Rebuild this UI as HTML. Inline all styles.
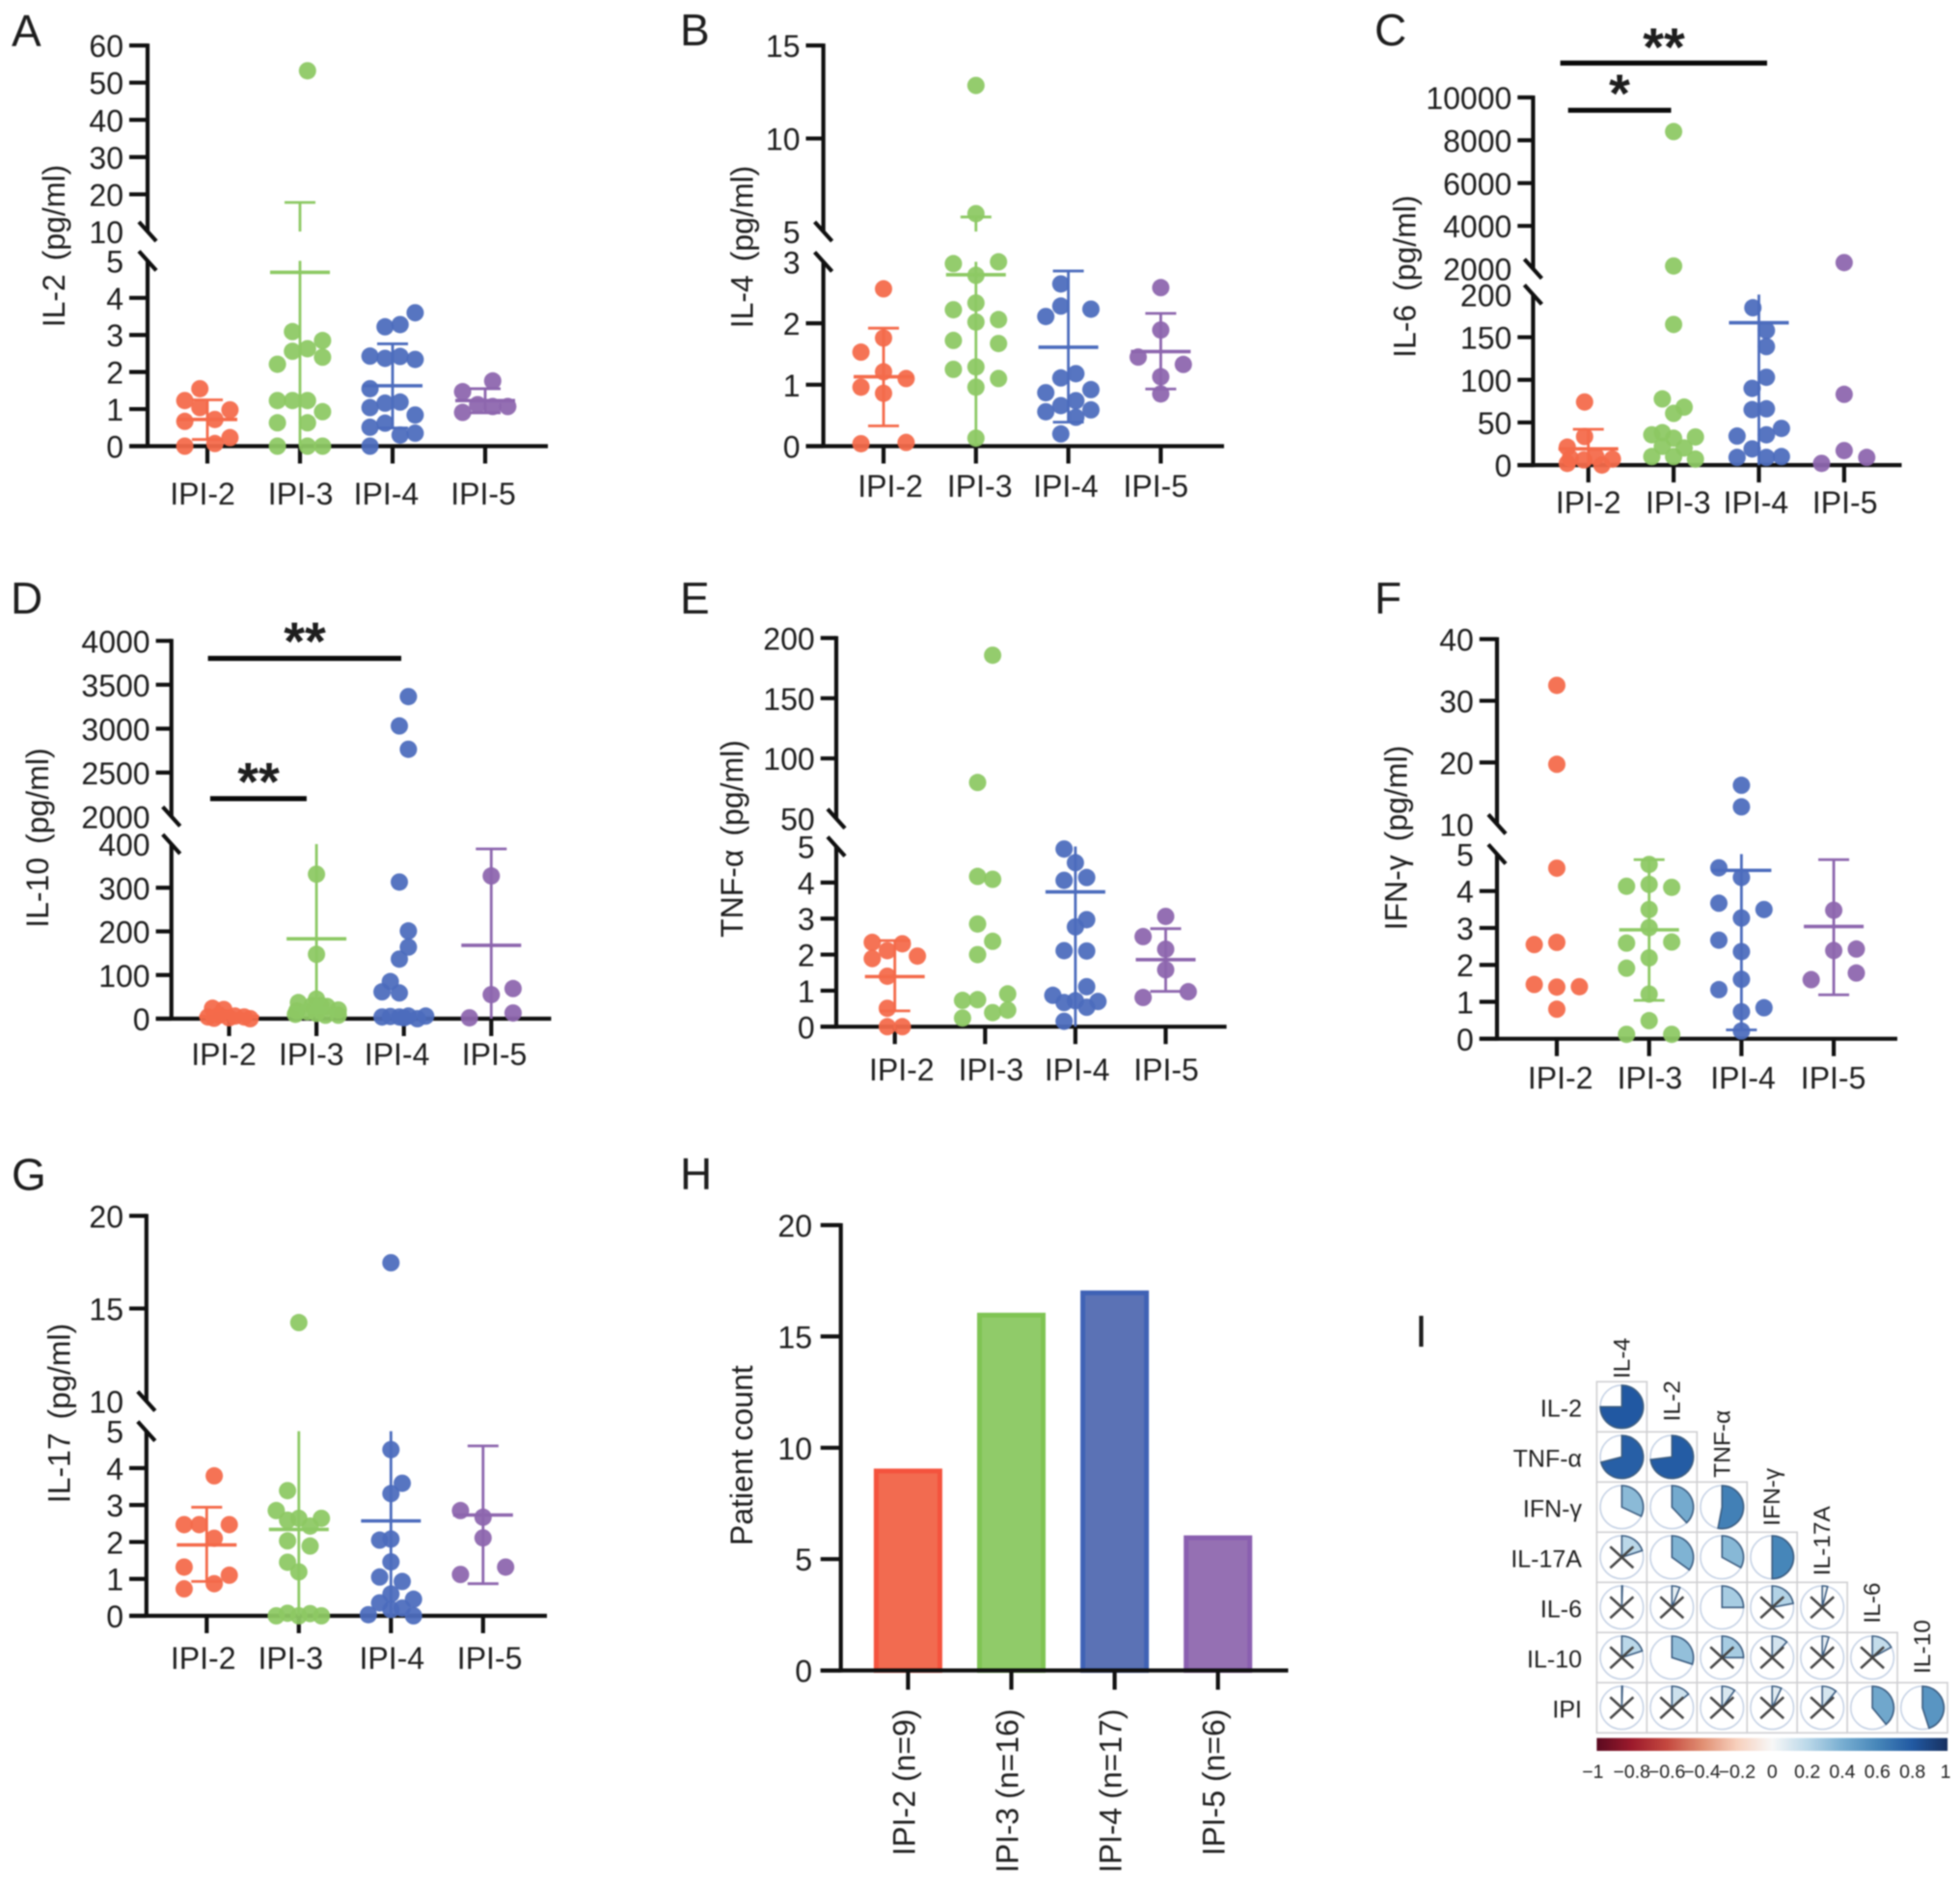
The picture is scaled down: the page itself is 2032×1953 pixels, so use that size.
<!DOCTYPE html>
<html lang="en">
<head>
<meta charset="utf-8">
<title>Cytokine levels by IPI group</title>
<style>
html,body{margin:0;padding:0;background:#fff;}
#figure{display:block;filter:blur(0.7px);}
text{font-family:"Liberation Sans",sans-serif;fill:#1e1e1e;}
</style>
</head>
<body>
<svg id="figure" xmlns="http://www.w3.org/2000/svg" width="2032" height="1953" viewBox="0 0 2032 1953">
<defs>
<linearGradient id="corr-gradient" x1="0" x2="1" y1="0" y2="0">
<stop offset="0" stop-color="#5a0a20"/>
<stop offset="0.1" stop-color="#9c1a2c"/>
<stop offset="0.2" stop-color="#c4483f"/>
<stop offset="0.3" stop-color="#e08e72"/>
<stop offset="0.4" stop-color="#f7d0bd"/>
<stop offset="0.5" stop-color="#f7f7f7"/>
<stop offset="0.6" stop-color="#bbd8e9"/>
<stop offset="0.7" stop-color="#78aed1"/>
<stop offset="0.8" stop-color="#4686b9"/>
<stop offset="0.9" stop-color="#2159a2"/>
<stop offset="1" stop-color="#17305f"/>
</linearGradient>
</defs>
</svg>
<script>
const categories = ['IPI-2', 'IPI-3', 'IPI-4', 'IPI-5'];
const groupColors = ['#f46a4a', '#8dc964', '#4c6cbd', '#8d66ae'];

/* Panel A: IL-2 */
const il2Values = [
  [1.55,1.23,1.04,0.98,0.67,0.72,0.23,0.07,0],
  [53.2,3.09,2.85,2.63,2.56,2.4,2.21,1.23,1.23,1.23,0.93,0.63,0.63,0,0,0],
  [3.6,3.22,3.28,2.43,2.37,2.42,2.34,1.55,1.16,1.19,1.04,0.84,0.62,0.51,0.3,0.35,0],
  [1.76,1.47,1.12,1.07,1.07,0.91]
];
const il2Slots = [
  [-0.5,-1.5,-0.5,1.5,-1.5,0.5,1.5,0.5,-1.5],
  [0.5,-0.5,1.5,0.5,-0.5,1.5,-1.5,-1.5,-0.5,0.5,1.5,-1.5,0.5,-1.5,0.5,1.5],
  [1.5,-0.5,0.5,-1.5,-0.5,0.5,1.5,-1.5,-0.5,0.5,-1.5,1.5,-0.5,-1.5,0.5,1.5,-1.5],
  [0.5,-1.5,-0.5,0.5,1.5,-1.5]
];
const il2Means = [0.72,4.69,1.63,1.23];
const il2Upper = [1.25,17.8,2.76,1.55];
const il2Lower = [0.18,null,0.49,0.9];
const il2LowTicks = [0,1,2,3,4,5];
const il2HighTicks = [10,20,30,40,50,60];

/* Panel B: IL-4 */
const il4Values = [
  [2.56,1.76,1.53,1.21,1.1,0.96,0.86,0.04,0.06],
  [12.85,5.96,2.97,3.0,2.78,2.33,2.22,2.06,2.02,1.72,1.67,1.25,1.29,1.1,0.96,0.13],
  [2.64,2.28,2.23,2.11,1.18,1.11,0.92,0.87,0.74,0.66,0.56,0.59,0.47,0.2],
  [2.58,1.89,1.45,1.33,1.13,0.85]
];
const il4Slots = [
  [0,0,-1.5,0,1.5,-1.5,0,-1.5,1.5],
  [0,0,-1.5,1.5,0,0,-1.5,1.5,0,-1.5,1.5,-1.5,0,1.5,0,0],
  [-0.5,-0.5,1.5,-1.5,0.5,-0.5,1.5,-1.5,0.5,-0.5,-1.5,1.5,0.5,-0.5],
  [0,0,-1.5,1.5,0,0]
];
const il4Means = [1.13,2.79,1.61,1.54];
const il4Upper = [1.92,5.78,2.85,2.16];
const il4Lower = [0.33,null,0.39,0.93];
const il4LowTicks = [0,1,2,3];
const il4HighTicks = [5,10,15];

/* Panel C: IL-6 */
const il6Values = [
  [74,33.5,21,8,6,10,7,0,2],
  [8406,2129,165,77.6,68,60.6,35.5,38,31.5,33,22,20,10,10,7],
  [184.6,158,139,103,90,65,66,43,34,35.5,19,9,9,10],
  [2287,83,17,9,2]
];
const il6Slots = [
  [-0.25,-0.25,-1.4,-1.2,-0.3,0.5,1.6,0.9,-1.4],
  [0,0,0,-0.75,0.7,0,-1.45,-0.75,0,1.45,-0.75,0.7,-1.45,0,1.45],
  [-0.4,0.5,0.5,0.5,-0.45,-0.45,0.5,1.5,-1.45,0.5,-0.45,-1.45,0.5,1.5],
  [0,0,0,1.5,-1.5]
];
const il6Means = [19,null,167,null];
const il6Upper = [42,null,300,null];
const il6Lower = [null,null,null,null];
const il6LowTicks = [0,50,100,150,200];
const il6HighTicks = [2000,4000,6000,8000,10000];

/* Panel D: IL-10 */
const il10Values = [
  [24,21,4,8,6,4,0,2,1],
  [331,147.5,45,37,28,18,16,12,8,20,8,30,10,30],
  [3365,3031,2765,313,201,164,136.5,85,61.5,59,4,5,4,6,0,6,2],
  [327,69,55,13,2]
];
const il10Slots = [
  [-1.1,-0.35,-1.4,-0.65,0.4,1,1.4,0,-1],
  [0,0,0,-1.2,0.7,-1.3,-0.6,0,0.6,1.45,1.45,-0.3,-1.4,0.3],
  [0.3,-0.3,0.3,-0.3,0.3,0.3,-0.3,-0.9,-1.45,-0.3,-1.45,-0.9,-0.3,0.3,0.9,1.45,0],
  [0,1.45,0,1.45,-1.45]
];
const il10Means = [5,183,null,168];
const il10Upper = [12,500,null,389];
const il10Lower = [null,null,null,null];
const il10LowTicks = [0,100,200,300,400];
const il10HighTicks = [2000,2500,3000,3500,4000];

/* Panel E: TNF-alpha */
const tnfValues = [
  [2.34,2.3,2.11,1.89,1.96,1.4,0.51,0,0],
  [185.7,80,4.17,4.09,2.85,2.37,2.0,0.91,0.73,0.75,0.46,0.39,0.24],
  [4.93,4.55,4.06,4.14,2.97,2.77,2.11,2.1,1.11,0.87,0.67,0.72,0.7,0.54,0.15],
  [3.06,2.5,2.15,1.58,0.97,0.81]
];
const tnfSlots = [
  [-1.5,0.5,-0.5,-1.5,1.5,-0.5,-0.5,-0.5,0.5],
  [0.5,-0.5,-0.5,0.5,-0.5,0.5,-0.5,1.5,-1.5,-0.5,1.5,0.5,-1.5],
  [-0.75,0,-0.75,0.75,0.75,0,-0.75,0.75,0.75,-1.5,-0.75,0,1.5,0.75,-0.75],
  [0,-1.5,0,0,1.5,-1.5]
];
const tnfMeans = [1.39,null,3.74,1.86];
const tnfUpper = [2.39,null,8,2.72];
const tnfLower = [0.44,null,null,0.98];
const tnfLowTicks = [0,1,2,3,4,5];
const tnfHighTicks = [50,100,150,200];

/* Panel F: IFN-gamma */
const ifnValues = [
  [32.5,19.7,4.62,2.55,2.61,1.47,1.4,1.41,0.8],
  [4.72,4.13,4.18,4.1,3.5,3.01,2.59,2.62,2.19,1.91,1.21,0.49,0.12,0.12],
  [16.3,12.8,4.63,4.37,3.67,3.5,3.27,2.67,2.36,1.61,1.33,0.84,0.73,0.21],
  [3.48,2.39,2.43,1.78,1.6]
];
const ifnSlots = [
  [0,0,0,-1.5,0,-1.5,0,1.5,0],
  [0,-1.5,0,1.5,0,0,-1.5,1.5,0,-1.5,0,0,-1.5,1.5],
  [0,0,-1.5,0,-1.5,1.5,0,-1.5,0,0,-1.5,1.5,0,0],
  [0,0,1.5,1.5,-1.5]
];
const ifnMeans = [null,2.95,4.56,3.04];
const ifnUpper = [null,4.85,8,4.85];
const ifnLower = [null,1.04,0.24,1.19];
const ifnLowTicks = [0,1,2,3,4,5];
const ifnHighTicks = [10,20,30,40];

/* Panel G: IL-17 */
const il17Values = [
  [3.79,2.47,2.47,2.47,2.1,1.32,1.1,0.87,0.73],
  [14.24,3.39,2.85,2.59,2.64,2.64,2.43,2.03,1.89,1.45,1.19,0,0.07,0,0.06,0],
  [17.47,4.5,3.59,3.31,2.05,2.08,1.46,1.05,0.93,0.59,0.45,0.35,0.21,0.17,0.03,0],
  [2.85,2.67,2.11,1.32,1.12]
];
const il17Slots = [
  [0.5,-1.5,-0.5,1.5,0.5,-1.5,1.5,0.5,-1.5],
  [0,-0.75,-1.5,-0.75,0,1.5,0.75,-0.75,0.75,-0.75,0,-1.5,-0.75,0,0.75,1.5],
  [0,0,0.75,0,-0.75,0,0,-0.75,0.75,0,1.5,-0.75,0.75,0,-1.5,1.5],
  [-1.5,0,0,1.5,-1.5]
];
const il17Means = [1.92,2.34,2.57,2.73];
const il17Upper = [2.94,7,7,4.6];
const il17Lower = [0.93,null,null,0.87];
const il17LowTicks = [0,1,2,3,4,5];
const il17HighTicks = [10,15,20];

/* Panel H: patient counts */
const patientLabels = ['IPI-2 (n=9)', 'IPI-3 (n=16)', 'IPI-4 (n=17)', 'IPI-5 (n=6)'];
const patientCounts = [9, 16, 17, 6];
const patientTicks = [0, 5, 10, 15, 20];

/* Panel I: correlation matrix */
const corrRowLabels = ['IL-2', 'TNF-α', 'IFN-γ', 'IL-17A', 'IL-6', 'IL-10', 'IPI'];
const corrColLabels = ['IL-4', 'IL-2', 'TNF-α', 'IFN-γ', 'IL-17A', 'IL-6', 'IL-10'];
const corrValues = [
  [0.75],
  [0.71,0.73],
  [0.32,0.38,0.53],
  [0.2,0.35,0.33,0.5],
  [0.005,0.06,0.25,0.22,0.04],
  [0.2,0.3,0.25,0.12,0.05,0.17],
  [0.005,0.14,0.1,0.07,0.11,0.39,0.45]
];
const corrCrossed = [
  [0],
  [0,0],
  [0,0,0],
  [1,0,0,0],
  [1,1,0,1,1],
  [1,0,1,1,1,1],
  [1,1,1,1,1,0,0]
];
const corrTicks = [-1,-0.8,-0.6,-0.4,-0.2,0,0.2,0.4,0.6,0.8,1];

const NS = 'http://www.w3.org/2000/svg';
const figure = document.getElementById('figure');

function addLine(parent, x1, y1, x2, y2, width, color, name) {
  const el = document.createElementNS(NS, 'line');
  el.setAttribute('x1', x1);
  el.setAttribute('y1', y1);
  el.setAttribute('x2', x2);
  el.setAttribute('y2', y2);
  el.setAttribute('stroke', color);
  el.setAttribute('stroke-width', width);
  
  
  parent.appendChild(el);
  return el;
}
function addText(parent, str, x, y, size, anchor, name, rotate, weight) {
  const el = document.createElementNS(NS, 'text');
  el.textContent = str;
  el.setAttribute('x', x);
  el.setAttribute('y', y);
  el.setAttribute('font-size', size);
  el.setAttribute('text-anchor', anchor);
  if (rotate) el.setAttribute('transform', 'rotate(' + rotate + ' ' + x + ' ' + y + ')');
  if (weight) el.setAttribute('font-weight', weight);
  
  
  parent.appendChild(el);
  return el;
}
function addGroup(parent, name) {
  const el = document.createElementNS(NS, 'g');
  
  
  parent.appendChild(el);
  return el;
}

/* Broken-axis scale: low segment, gap, high segment */
function makeYScale(p) {
  return function (v) {
    if (v <= p.lowMax) return p.y0 + (p.yLow - p.y0) * v / p.lowMax;
    if (v < p.upMin) return p.yLow + (p.yUp - p.yLow) * (v - p.lowMax) / (p.upMin - p.lowMax);
    return p.yUp + (p.yTop - p.yUp) * (v - p.upMin) / (p.upMax - p.upMin);
  };
}

const scatterPanels = [
  {id:'il2', letter:'A', lx:12, ly:48, ax:153, xl:134, xr:568, y0:462.5, yLow:270.4, lowMax:5, yUp:240, upMin:10, yTop:47.1, upMax:60,
   cx0:215, cxStep:96, labelX:[210,311.6,400.4,501], labelY:523, title:'IL-2 (pg/ml)', tx:56, ty:255,
   values:il2Values, slots:il2Slots, means:il2Means, upper:il2Upper, lower:il2Lower, lowTicks:il2LowTicks, highTicks:il2HighTicks},
  {id:'il4', letter:'B', lx:705, ly:47, ax:853.6, xl:835.5, xr:1269, y0:462.5, yLow:271.4, lowMax:3, yUp:240, upMin:5, yTop:47.1, upMax:15,
   cx0:916, cxStep:95.8, labelX:[923,1015.7,1104.9,1198.3], labelY:515, title:'IL-4 (pg/ml)', tx:769.4, ty:256,
   values:il4Values, slots:il4Slots, means:il4Means, upper:il4Upper, lower:il4Lower, lowTicks:il4LowTicks, highTicks:il4HighTicks},
  {id:'il6', letter:'C', lx:1425, ly:47, ax:1589.4, xl:1573.3, xr:1971.5, y0:482.1, yLow:305.4, lowMax:200, yUp:278.6, upMin:2000, yTop:101, upMax:10000,
   cx0:1646.7, cxStep:88.4, labelX:[1646.7,1739.8,1820.4,1912.7], labelY:532, title:'IL-6 (pg/ml)', tx:1456.4, ty:286.6,
   values:il6Values, slots:il6Slots, means:il6Means, upper:il6Upper, lower:il6Lower, lowTicks:il6LowTicks, highTicks:il6HighTicks},
  {id:'il10', letter:'D', lx:11, ly:636, ax:177.7, xl:161.6, xr:571.4, y0:1056, yLow:875, lowMax:400, yUp:846.4, upMin:2000, yTop:664.3, upMax:4000,
   cx0:237.5, cxStep:90.6, labelX:[232,322.8,411.6,512.5], labelY:1104, title:'IL-10 (pg/ml)', tx:39, ty:868.6,
   values:il10Values, slots:il10Slots, means:il10Means, upper:il10Upper, lower:il10Lower, lowTicks:il10LowTicks, highTicks:il10HighTicks},
  {id:'tnf', letter:'E', lx:705, ly:636, ax:867, xl:850.7, xr:1271.6, y0:1064.3, yLow:877.5, lowMax:5, yUp:848.6, upMin:50, yTop:661.4, upMax:200,
   cx0:927.7, cxStep:93.6, labelX:[934.8,1027.4,1116.7,1209], labelY:1120, title:'TNF-α (pg/ml)', tx:759, ty:869.5,
   values:tnfValues, slots:tnfSlots, means:tnfMeans, upper:tnfUpper, lower:tnfLower, lowTicks:tnfLowTicks, highTicks:tnfHighTicks},
  {id:'ifn', letter:'F', lx:1425, ly:636, ax:1552, xl:1533.8, xr:1967, y0:1076.8, yLow:885.4, lowMax:5, yUp:854.3, upMin:10, yTop:662.5, upMax:40,
   cx0:1614, cxStep:95.7, labelX:[1617.7,1710.4,1807,1900.6], labelY:1128.6, title:'IFN-γ (pg/ml)', tx:1447.6, ty:868.6,
   values:ifnValues, slots:ifnSlots, means:ifnMeans, upper:ifnUpper, lower:ifnLower, lowTicks:ifnLowTicks, highTicks:ifnHighTicks},
  {id:'il17', letter:'G', lx:12, ly:1233.6, ax:151.8, xl:134, xr:567, y0:1675, yLow:1483.6, lowMax:5, yUp:1452.5, upMin:10, yTop:1260.4, upMax:20,
   cx0:214.3, cxStep:95.5, labelX:[210.7,301.3,406.3,507.6], labelY:1730, title:'IL-17 (pg/ml)', tx:61.6, ty:1465,
   values:il17Values, slots:il17Slots, means:il17Means, upper:il17Upper, lower:il17Lower, lowTicks:il17LowTicks, highTicks:il17HighTicks}
];

const SLOT_PX = 15.6, DOT_R = 9, MEAN_HALF = 31, CAP_HALF = 16, FONT = 32, AXIS_W = 4.2;

function drawErrorBar(g, p, y, cx, i, color) {
  const mean = p.means[i];
  if (mean === null) return;
  const up = p.upper[i];
  const low = p.lower[i] === null ? 0 : p.lower[i];
  const lowTop = Math.min(up, p.lowMax);
  addLine(g, cx, y(low), cx, y(lowTop), 2.8, color, 'error-bar-' + categories[i].toLowerCase());
  if (up >= p.upMin) {
    addLine(g, cx, y(p.upMin), cx, y(up), 2.8, color, 'error-bar-upper-' + categories[i].toLowerCase());
  }
  addLine(g, cx - MEAN_HALF, y(mean), cx + MEAN_HALF, y(mean), 3.6, color, 'mean-line-' + categories[i].toLowerCase());
  if (up <= p.lowMax || up >= p.upMin) {
    addLine(g, cx - CAP_HALF, y(up), cx + CAP_HALF, y(up), 2.8, color, 'upper-cap-' + categories[i].toLowerCase());
  }
  if (p.lower[i] !== null) {
    addLine(g, cx - CAP_HALF, y(low), cx + CAP_HALF, y(low), 2.8, color, 'lower-cap-' + categories[i].toLowerCase());
  }
}

function drawScatterPanel(p) {
  const g = addGroup(figure, 'panel-' + p.letter.toLowerCase());
  const y = makeYScale(p);
  const xCat = function (i) { return p.cx0 + i * p.cxStep; };
  addText(g, p.letter, p.lx, p.ly, 46, 'start', 'panel-letter-' + p.letter.toLowerCase());
  const title = addText(g, p.title, p.tx + 11, p.ty, FONT, 'middle', 'y-axis-title', -90);
  title.setAttribute('word-spacing', '5');

  /* axes */
  addLine(g, p.ax, p.y0 + 2, p.ax, p.yLow, AXIS_W, '#111', 'y-axis-lower');
  addLine(g, p.ax, p.yUp, p.ax, p.yTop - 2, AXIS_W, '#111', 'y-axis-upper');
  addLine(g, p.xl, p.y0, p.xr, p.y0, AXIS_W, '#111', 'x-axis');
  addLine(g, p.ax - 9, p.yUp - 10, p.ax + 9, p.yUp + 10, AXIS_W, '#111', 'axis-break-upper');
  addLine(g, p.ax - 9, p.yLow - 10, p.ax + 9, p.yLow + 10, AXIS_W, '#111', 'axis-break-lower');

  p.lowTicks.forEach(function (t, k) {
    if (k < p.lowTicks.length - 1) addLine(g, p.xl, y(t), p.ax, y(t), AXIS_W, '#111', 'y-tick');
    addText(g, String(t), p.xl - 6, y(t) + 12, FONT, 'end', 'y-tick-label');
  });
  p.highTicks.forEach(function (t, k) {
    if (k > 0) addLine(g, p.xl, y(t), p.ax, y(t), AXIS_W, '#111', 'y-tick');
    addText(g, String(t), p.xl - 6, y(t) + 12, FONT, 'end', 'y-tick-label');
  });

  categories.forEach(function (c, i) {
    addLine(g, xCat(i), p.y0, xCat(i), p.y0 + 18, AXIS_W, '#111', 'x-tick');
    addText(g, c, p.labelX[i], p.labelY, FONT, 'middle', 'x-tick-label');
  });

  /* marks */
  categories.forEach(function (c, i) {
    const color = groupColors[i];
    const series = addGroup(g, 'series-' + c.toLowerCase());
    p.values[i].forEach(function (v, k) {
      const dot = document.createElementNS(NS, 'circle');
      dot.setAttribute('cx', xCat(i) + p.slots[i][k] * SLOT_PX);
      dot.setAttribute('cy', y(v));
      dot.setAttribute('r', DOT_R);
      dot.setAttribute('fill', color);
      dot.setAttribute('fill-opacity', '0.94');
      
      
      series.appendChild(dot);
    });
    drawErrorBar(series, p, y, xCat(i), i, color);
  });
}
scatterPanels.forEach(drawScatterPanel);

/* Significance annotations */
function drawBracket(x1, x2, yb, stars, sx, sy, name) {
  const g = addGroup(figure, name);
  addLine(g, x1, yb, x2, yb, 5.2, '#0a0a0a', 'significance-bar');
  const s = addText(g, stars, sx, sy + 27, 56, 'middle', 'significance-stars', 0, 'bold');
  s.setAttribute('fill', '#0a0a0a');
}
drawBracket(1617.6, 1832, 65.4, '**', 1725, 41, 'significance-il6-ipi2-ipi4');
drawBracket(1625.7, 1732.5, 114.3, '*', 1679, 89, 'significance-il6-ipi2-ipi3');
drawBracket(215.6, 416, 682.5, '**', 316, 657, 'significance-il10-ipi2-ipi4');
drawBracket(217.9, 317.9, 827.9, '**', 268, 802.5, 'significance-il10-ipi2-ipi3');

/* Panel H: bars */
(function () {
  const g = addGroup(figure, 'panel-h');
  const ax = 871.7, y0 = 1731.6, yTop = 1270, tickMax = 20;
  const y = function (v) { return y0 + (yTop - y0) * v / tickMax; };
  const x = function (i) { return 941.4 + i * 107.1; };
  addText(g, 'H', 705, 1233, 46, 'start', 'panel-letter-h');
  addText(g, 'Patient count', 780, 1508.7, 32, 'middle', 'y-axis-title', -90);
  const barFills = ['#f26b50', '#90cb69', '#5b72b5', '#9570b3'];
  const barEdges = ['#f4533d', '#7fc453', '#3f62b5', '#8a5fb0'];
  patientCounts.forEach(function (n, i) {
    const bar = document.createElementNS(NS, 'rect');
    bar.setAttribute('x', x(i) - 33);
    bar.setAttribute('y', y(n) + 1);
    bar.setAttribute('width', 66);
    bar.setAttribute('height', y0 - y(n) - 1);
    bar.setAttribute('fill', barFills[i]);
    bar.setAttribute('stroke', barEdges[i]);
    bar.setAttribute('stroke-width', 5);
    
    
    g.appendChild(bar);
    addLine(g, x(i), y0, x(i), y0 + 20, AXIS_W, '#111', 'x-tick');
    addText(g, patientLabels[i], x(i) + 7, 1771.5, 32, 'end', 'x-tick-label', -90);
  });
  addLine(g, ax, yTop - 2, ax, y0 + 2, AXIS_W, '#111', 'y-axis');
  addLine(g, 850.7, y0, 1335.5, y0, AXIS_W, '#111', 'x-axis');
  patientTicks.forEach(function (t) {
    addLine(g, 850.7, y(t), ax, y(t), AXIS_W, '#111', 'y-tick');
    addText(g, String(t), 842, y(t) + 12, FONT, 'end', 'y-tick-label');
  });
})();

/* Panel I: correlation pies */
function corrColor(r) {
  const stops = [[0,[247,247,247]],[0.2,[187,216,233]],[0.35,[127,179,211]],[0.5,[70,134,185]],[0.75,[33,88,162]],[1,[23,48,95]]];
  const a = Math.min(1, Math.abs(r));
  for (let i = 1; i < stops.length; i++) {
    if (a <= stops[i][0]) {
      const t = (a - stops[i-1][0]) / (stops[i][0] - stops[i-1][0]);
      const c = stops[i][1].map(function (ch, k) { return Math.round(stops[i-1][1][k] + (ch - stops[i-1][1][k]) * t); });
      return 'rgb(' + c.join(',') + ')';
    }
  }
  return '#17305f';
}
(function () {
  const g = addGroup(figure, 'panel-i');
  const x0 = 1655.4, y0 = 1432.3, cw = 51.95, ch = 52, R = 22.3;
  addText(g, 'I', 1467, 1396, 46, 'start', 'panel-letter-i');
  const colBottoms = [1429, 1473.3, 1531.7, 1581.7, 1633.3, 1682.7, 1735];
  corrColLabels.forEach(function (c, j) {
    addText(g, c, x0 + (j + 0.5) * cw + 8, colBottoms[j], 24.5, 'start', 'column-label', -90);
  });
  corrRowLabels.forEach(function (rowLabel, i) {
    const cy = y0 + (i + 0.5) * ch;
    addText(g, rowLabel, 1640, cy + 10, 25, 'end', 'row-label');
    corrValues[i].forEach(function (r, j) {
      const cx = x0 + (j + 0.5) * cw;
      const cell = document.createElementNS(NS, 'rect');
      cell.setAttribute('x', x0 + j * cw);
      cell.setAttribute('y', y0 + i * ch);
      cell.setAttribute('width', cw);
      cell.setAttribute('height', ch);
      cell.setAttribute('fill', '#fff');
      cell.setAttribute('stroke', '#cfcfd2');
      cell.setAttribute('stroke-width', 1.6);
      
      
      g.appendChild(cell);

      const ring = document.createElementNS(NS, 'circle');
      ring.setAttribute('cx', cx);
      ring.setAttribute('cy', cy);
      ring.setAttribute('r', R);
      ring.setAttribute('fill', 'none');
      ring.setAttribute('stroke', '#c3d0e4');
      ring.setAttribute('stroke-width', 1.5);
      
      
      g.appendChild(ring);

      const ang = r * 2 * Math.PI;
      const ex = cx + R * Math.sin(ang), ey = cy - R * Math.cos(ang);
      const pie = document.createElementNS(NS, 'path');
      pie.setAttribute('d', 'M' + cx + ' ' + cy + ' L' + cx + ' ' + (cy - R) + ' A' + R + ' ' + R + ' 0 ' + (r > 0.5 ? 1 : 0) + ' 1 ' + ex + ' ' + ey + ' Z');
      pie.setAttribute('fill', corrColor(r));
      pie.setAttribute('stroke', '#3b5c80');
      pie.setAttribute('stroke-width', 1.6);
      
      
      g.appendChild(pie);

      if (corrCrossed[i][j]) {
        addLine(g, cx - 12, cy - 11, cx + 12, cy + 11, 2.6, '#444', 'not-significant-cross');
        addLine(g, cx - 12, cy + 11, cx + 12, cy - 11, 2.6, '#444', 'not-significant-cross');
      }
    });
  });
  /* colour bar */
  const barX = x0, barW = 363.7, barY = 1801.7, barH = 13.3;
  const bar = document.createElementNS(NS, 'rect');
  bar.setAttribute('x', barX);
  bar.setAttribute('y', barY);
  bar.setAttribute('width', barW);
  bar.setAttribute('height', barH);
  bar.setAttribute('fill', 'url(#corr-gradient)');
  
  
  g.appendChild(bar);
  corrTicks.forEach(function (t) {
    const tx = barX + (t + 1) / 2 * barW;
    const label = String(t).replace('-', '−');
    addText(g, label, tx + (t === -1 ? -4 : t === 1 ? -2 : 0), 1843, 19.5, 'middle', 'colorbar-tick-label');
  });
})();
</script>
</body>
</html>
